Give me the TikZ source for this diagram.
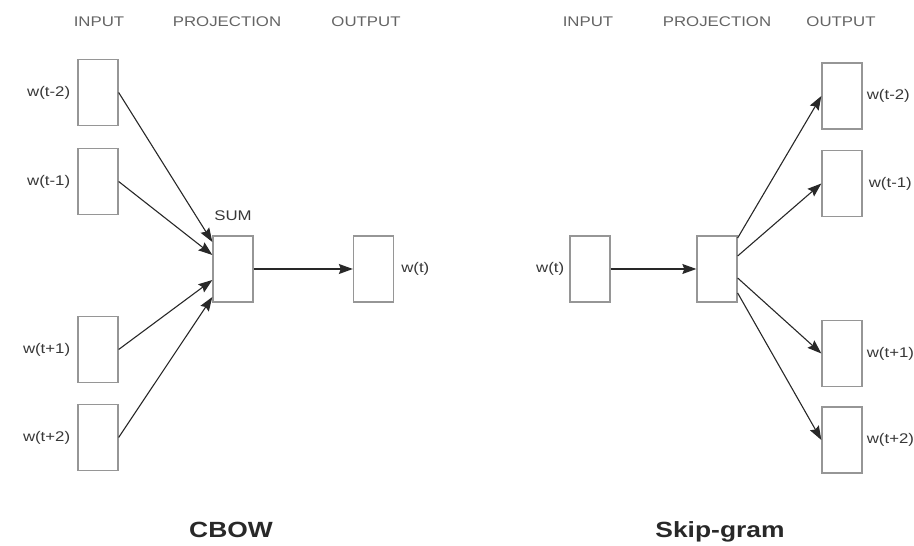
\documentclass[tikz,border=0pt]{standalone}
\usepackage{fontspec}
\setmainfont{Liberation Sans}[FakeStretch=1.2]
\usepackage{tikz}
\usetikzlibrary{arrows.meta,positioning}
\definecolor{BoxGray}{RGB}{150,150,150}
\definecolor{LineGray}{RGB}{40,40,40}
\definecolor{TextGray}{RGB}{55,55,55}
\definecolor{HeadGray}{RGB}{100,100,100}

\tikzset{
  vec/.style={draw=BoxGray, line width=1.3pt, minimum width=40pt, minimum height=66pt, inner sep=0pt},
  lbl/.style={text=TextGray, font=\fontsize{14}{16}\selectfont, inner sep=0pt},
  head/.style={text=HeadGray, font=\fontsize{14}{16}\selectfont},
  title/.style={text=LineGray, font=\bfseries\fontsize{22}{26}\selectfont},
  arr/.style={-{Stealth[length=14pt,width=10pt,inset=2pt]}, draw=LineGray, line width=1.1pt},
}

\begin{document}
\begin{tikzpicture}[x=1pt,y=1pt]
  \useasboundingbox (0,0) rectangle (914,546);

  % column headers
  \node[head] (cIn)   at (99,524)  {INPUT};
  \node[head] (cProj) at (227,524) {PROJECTION};
  \node[head] (cOut)  at (366,524) {OUTPUT};
  \node[head] (sIn)   at (588,524) {INPUT};
  \node[head] (sProj) at (717,524) {PROJECTION};
  \node[head] (sOut)  at (841,524) {OUTPUT};

  % CBOW
  \node[vec] (cw1) at (98,453.5) {};
  \node[vec] (cw2) at (98,364.5) {};
  \node[vec] (cw3) at (98,196.5) {};
  \node[vec] (cw4) at (98,108.5) {};
  \node[lbl, left=7pt of cw1] (lcw1) {w(t-2)};
  \node[lbl, left=7pt of cw2] (lcw2) {w(t-1)};
  \node[lbl, left=7pt of cw3] (lcw3) {w(t+1)};
  \node[lbl, left=7pt of cw4] (lcw4) {w(t+2)};
  \node[vec] (sum) at (233,277) {};
  \node[lbl, above=15pt of sum] (lsum) {SUM};
  \node[vec] (cout) at (373.5,277) {};
  \node[lbl, right=7pt of cout] (lcout) {w(t)};
  \foreach \n/\s in {cw1/27, cw2/14, cw3/-11, cw4/-28} {
    \draw[arr] (\n.east) -- ([yshift=\s pt]sum.west);
  }
  \draw[arr] (sum) -- (cout);
  \node[title] (tcbow) at (231,16) {CBOW};

  % Skip-gram
  \node[vec] (sw) at (590,277) {};
  \node[lbl, left=5pt of sw] (lsw) {w(t)};
  \node[vec] (sproj) at (717,277) {};
  \node[vec] (so1) at (842,450) {};
  \node[vec] (so2) at (842,362.5) {};
  \node[vec] (so3) at (842,192.5) {};
  \node[vec] (so4) at (842,106) {};
  \node[lbl, right=4pt of so1] (lso1) {w(t-2)};
  \node[lbl, right=6pt of so2] (lso2) {w(t-1)};
  \node[lbl, right=4pt of so3] (lso3) {w(t+1)};
  \node[lbl, right=4pt of so4] (lso4) {w(t+2)};
  \draw[arr] (sw) -- (sproj);
  \foreach \n/\s in {so1/31, so2/13, so3/-9, so4/-24} {
    \draw[arr] ([yshift=\s pt]sproj.east) -- (\n.west);
  }
  \node[title] (tskip) at (720,14) {Skip-gram};
\end{tikzpicture}
\end{document}
